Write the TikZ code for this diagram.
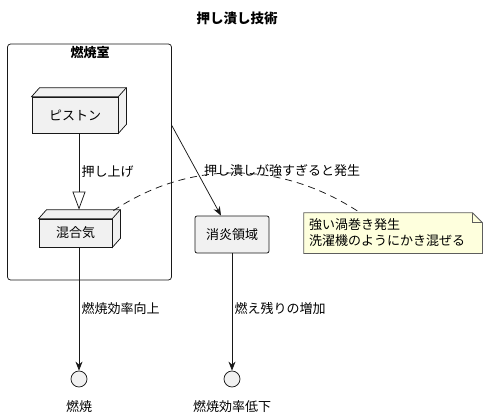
\documentclass[tikz,border=0pt]{standalone}
\usepackage{fontspec}
\setmainfont{Noto Sans CJK JP}
\usetikzlibrary{arrows.meta,positioning}
\definecolor{boxgray}{HTML}{F1F1F1}
\definecolor{linegray}{HTML}{181818}
\definecolor{noteyellow}{HTML}{FEFFDD}

% extra faces of a 3d node box
\newcommand{\cubefaces}[1]{%
	\draw[linegray,fill=boxgray] (#1.north west) -- ++(8,-9) -- ([shift={(8,-9)}]#1.north east) -- ([shift={(8,-9)}]#1.south east) -- (#1.south east) -- (#1.north east) -- cycle;
	\draw[linegray] (#1.north east) -- ++(8,-9);
}

\begin{document}
\begin{tikzpicture}[x=1pt,y=-1pt,line width=0.75pt,font=\fontsize{13}{16}\selectfont]
	\useasboundingbox (0,0) rectangle (487,418);
	\node[font=\fontsize{13.5}{16}\bfseries] (title) at (237,18) {押し潰し技術};

	\begin{scope}[every node/.style={rectangle,draw=linegray,fill=boxgray,inner sep=0pt}]
		\node[fill=none,rounded corners=3pt,minimum width=164,minimum height=236] (chamber) at (89.5,162) {};
		\node[minimum width=86,minimum height=36] (piston) at (75,115) {ピストン};
		\node[minimum width=73,minimum height=28] (mix) at (75.5,233) {混合気};
		\node[rounded corners=2pt,minimum width=74,minimum height=37] (quench) at (232,234.5) {消炎領域};
		\node[circle,minimum size=16] (burn) at (79,379) {};
		\node[circle,minimum size=16] (loss) at (232,379) {};
	\end{scope}
	\cubefaces{piston}
	\cubefaces{mix}
	\node[font=\fontsize{13}{16}\bfseries] (chamberlabel) at (90,53) {燃焼室};
	\node (burnlabel) at (79,407) {燃焼};
	\node (losslabel) at (232,407) {燃焼効率低下};

	% note
	\node[minimum width=178,minimum height=40,inner sep=0pt,text width=168,align=left] (note) at (393,233) {};
	\fill[noteyellow] (note.north west) -- ([xshift=-10]note.north east) -- ([yshift=-10]note.north east) -- (note.south east) -- (note.south west) -- cycle;
	\node[minimum width=178,minimum height=40,inner sep=0pt,text width=168,align=left] (notetext) at (note) {強い渦巻き発生\\洗濯機のようにかき混ぜる};
	\draw[linegray!70] (note.north west) -- ([xshift=-10]note.north east) -- ([yshift=-10]note.north east) -- (note.south east) -- (note.south west) -- cycle;
	\draw[linegray!70] ([xshift=-10]note.north east) -- ++(0,10) -- ([yshift=-10]note.north east);

	\begin{scope}[linegray]
	\draw[-{Triangle[open,length=18pt,width=13pt]}] ([xshift=4]piston.south) -- ([xshift=3.5,yshift=9]mix.north) node[midway,right=-1pt,black] (push) {押し上げ};
	\draw[-{Stealth[length=9pt,width=7pt]}] ([yshift=-82]chamber.north east) -- ([xshift=-11]quench.north) node[pos=0.5,right=4pt,black] (crush) {押し潰しが強すぎると発生};
	\draw[dashed,dash pattern=on 7pt off 5pt] ([shift={(1,-8)}]mix.north east) .. controls (190,160) and (280,160) .. ([xshift=-33]note.north);
	\draw[-{Stealth[length=9pt,width=7pt]}] ([xshift=3.5]mix.south) -- (burn) node[pos=0.5,right=-1pt,black] (gain) {燃焼効率向上};
	\draw[-{Stealth[length=9pt,width=7pt]}] (quench) -- (loss) node[pos=0.47,right=-1pt,black] (rest) {燃え残りの増加};
	\end{scope}
\end{tikzpicture}
\end{document}
